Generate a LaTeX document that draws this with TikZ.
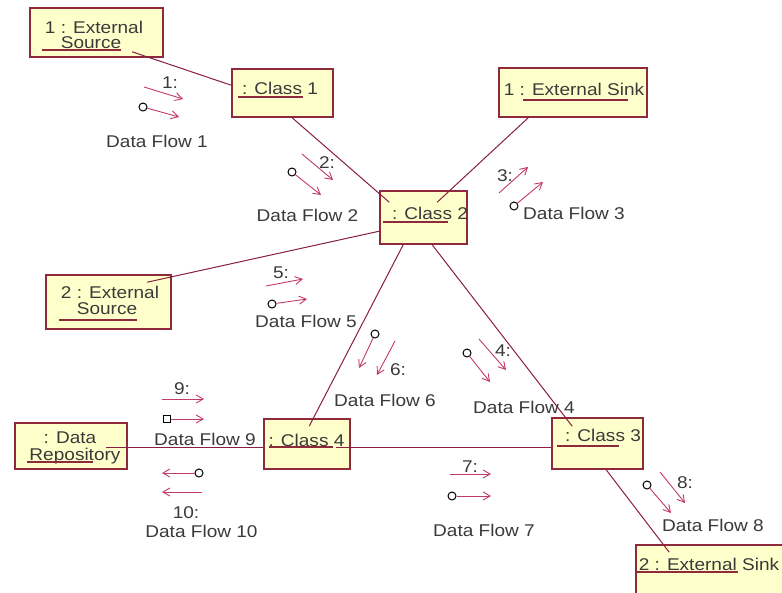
\documentclass[tikz,border=0pt]{standalone}
\usepackage{fontspec}
\setmainfont[FakeStretch=1.12]{Liberation Sans}
\usetikzlibrary{arrows.meta,calc}
\definecolor{boxfill}{HTML}{FFFFCC}
\definecolor{boxline}{HTML}{8E2A3C}
\definecolor{linec}{HTML}{8A1D44}
\definecolor{arrc}{HTML}{C23A6A}
\definecolor{txt}{HTML}{3A3A3A}
\begin{document}
\begin{tikzpicture}[x=1pt,y=-1pt,
  obj/.style={draw=boxline, fill=boxfill, line width=1.6pt, inner sep=0pt},
  lbl/.style={text=txt, inner sep=0pt, font=\fontsize{17}{17}\selectfont, text height=12.2pt, text depth=0pt},
  conn/.style={draw=linec, line width=1pt},
  msg/.style={draw=arrc, line width=0.9pt, -{Straight Barb[length=7pt,width=8pt]}},
  tailc/.style={draw=black, fill=white, circle, inner sep=0pt, minimum size=8pt, line width=1pt},
  tails/.style={draw=black, fill=white, rectangle, inner sep=0pt, minimum size=7pt, line width=1pt},
  ul/.style={draw=boxline, line width=1.3pt}]
\useasboundingbox[fill=white] (0,0) rectangle (782,592);

% boxes
\node[obj, minimum width=133, minimum height=49] (es1) at (96.5,32.5) {};
\node[obj, minimum width=101, minimum height=48] (c1) at (282.5,93) {};
\node[obj, minimum width=148, minimum height=49] (ek1) at (573,92.5) {};
\node[obj, minimum width=87, minimum height=53] (c2) at (423.5,217.5) {};
\node[obj, minimum width=125, minimum height=54] (es2) at (108.5,302) {};
\node[obj, minimum width=112, minimum height=46] (dr) at (71,446) {};
\node[obj, minimum width=86, minimum height=50] (c4) at (307,444) {};
\node[obj, minimum width=91, minimum height=51] (c3) at (597.5,443.5) {};
\node[obj, minimum width=156, minimum height=53] (ek2) at (714,571.5) {};

% box texts
\node[lbl] (es1a) at (94,27) {1 : External};
\node[lbl] (es1b) at (91,42.5) {Source};
\node[lbl] (c1t) at (280,88) {: Class 1};
\node[lbl] (ek1t) at (574,89.5) {1 : External Sink};
\node[lbl] (c2t) at (430,213) {: Class 2};
\node[lbl] (es2a) at (110,292.5) {2 : External};
\node[lbl] (es2b) at (107,308.5) {Source};
\node[lbl] (dra) at (70,437) {: Data};
\node[lbl] (drb) at (75,454.5) {Repository};
\node[lbl] (c4t) at (306.5,440) {: Class 4};
\node[lbl] (c3t) at (603,435) {: Class 3};
\node[lbl] (ek2t) at (709,564.5) {2 : External Sink};

% underlines
\draw[ul] (42,50) -- (121,50);
\draw[ul] (238,97) -- (303,97);
\draw[ul] (523,100) -- (628,100);
\draw[ul] (383,222) -- (448,222);
\draw[ul] (59,320) -- (137,320);
\draw[ul] (27,462) -- (93,462);
\draw[ul] (269,447) -- (333,447);
\draw[ul] (557,446) -- (619,446);
\draw[ul] (636,572) -- (738,572);

% connectors
\draw[conn] ($(es1.south west)+(103,-6)$) -- ($(c1.north west)+(0,17)$);
\draw[conn] ($(c1.south west)+(61,0)$) -- ($(c2.north west)+(10,12)$);
\draw[conn] ($(ek1.south west)+(30,0)$) -- ($(c2.north west)+(58,12)$);
\draw[conn] ($(es2.north west)+(102,8)$) -- ($(c2.north west)+(0,41)$);
\draw[conn] ($(c2.south west)+(24,0)$) -- ($(c4.north west)+(46,8)$);
\draw[conn] ($(c2.south west)+(53,0)$) -- ($(c3.north west)+(21,9)$);
\draw[conn] ($(dr.north west)+(92,25)$) -- ($(c4.north west)+(0,29)$);
\draw[conn] ($(c4.north west)+(73,29)$) -- ($(c3.north west)+(0,30)$);
\draw[conn] ($(c3.south west)+(55,0)$) -- ($(ek2.north west)+(34,8)$);

% message 1
\coordinate (m1a) at (144,87); \coordinate (m1b) at (183,99);
\draw[msg] (m1a) -- (m1b);
\node[lbl] (n1) at (170,82) {1:};
\node[tailc] (f1) at (143,107) {}; \coordinate (f1b) at (179,117);
\draw[msg] (f1) -- (f1b);
\node[lbl] (d1) at (157,141) {Data Flow 1};

% message 2
\coordinate (m2a) at (302,154); \coordinate (m2b) at (333,180);
\draw[msg] (m2a) -- (m2b);
\node[lbl] (n2) at (327,162) {2:};
\node[tailc] (f2) at (292,172) {}; \coordinate (f2b) at (321,195);
\draw[msg] (f2) -- (f2b);
\node[lbl] (d2) at (307.5,215) {Data Flow 2};

% message 3
\coordinate (m3a) at (499,193); \coordinate (m3b) at (528,167);
\draw[msg] (m3a) -- (m3b);
\node[lbl] (n3) at (505,175) {3:};
\node[tailc] (f3) at (514,206) {}; \coordinate (f3b) at (543,182);
\draw[msg] (f3) -- (f3b);
\node[lbl] (d3) at (574,213.5) {Data Flow 3};

% message 4
\coordinate (m4a) at (479,339); \coordinate (m4b) at (506,370);
\draw[msg] (m4a) -- (m4b);
\node[lbl] (n4) at (503,350) {4:};
\node[tailc] (f4) at (467,353) {}; \coordinate (f4b) at (490,382);
\draw[msg] (f4) -- (f4b);
\node[lbl] (d4) at (524,407) {Data Flow 4};

% message 5
\coordinate (m5a) at (266,286); \coordinate (m5b) at (303,279);
\draw[msg] (m5a) -- (m5b);
\node[lbl] (n5) at (281,272) {5:};
\node[tailc] (f5) at (272,304) {}; \coordinate (f5b) at (307,299);
\draw[msg] (f5) -- (f5b);
\node[lbl] (d5) at (306,321.5) {Data Flow 5};

% message 6
\coordinate (m6a) at (395,341); \coordinate (m6b) at (377,375);
\draw[msg] (m6a) -- (m6b);
\node[lbl] (n6) at (398,369) {6:};
\node[tailc] (f6) at (375,334) {}; \coordinate (f6b) at (359,368);
\draw[msg] (f6) -- (f6b);
\node[lbl] (d6) at (385,400) {Data Flow 6};

% message 7
\coordinate (m7a) at (450,474); \coordinate (m7b) at (491,474);
\draw[msg] (m7a) -- (m7b);
\node[lbl] (n7) at (470,466) {7:};
\node[tailc] (f7) at (452,496) {}; \coordinate (f7b) at (491,496);
\draw[msg] (f7) -- (f7b);
\node[lbl] (d7) at (484,530) {Data Flow 7};

% message 8
\coordinate (m8a) at (660,472); \coordinate (m8b) at (685,503);
\draw[msg] (m8a) -- (m8b);
\node[lbl] (n8) at (685,482) {8:};
\node[tailc] (f8) at (647,485) {}; \coordinate (f8b) at (671,513);
\draw[msg] (f8) -- (f8b);
\node[lbl] (d8) at (713,525) {Data Flow 8};

% message 9
\coordinate (m9a) at (162,399); \coordinate (m9b) at (204,399);
\draw[msg] (m9a) -- (m9b);
\node[lbl] (n9) at (182,388) {9:};
\node[tails] (f9) at (167,419) {}; \coordinate (f9b) at (204,419);
\draw[msg] (f9) -- (f9b);
\node[lbl] (d9) at (205,439.5) {Data Flow 9};

% message 10
\node[tailc] (f10) at (199,473) {}; \coordinate (f10b) at (162,473);
\draw[msg] (f10) -- (f10b);
\coordinate (m10a) at (202,492); \coordinate (m10b) at (162,492);
\draw[msg] (m10a) -- (m10b);
\node[lbl] (n10) at (186,512) {10:};
\node[lbl] (d10) at (201.5,531.5) {Data Flow 10};
\end{tikzpicture}
\end{document}
